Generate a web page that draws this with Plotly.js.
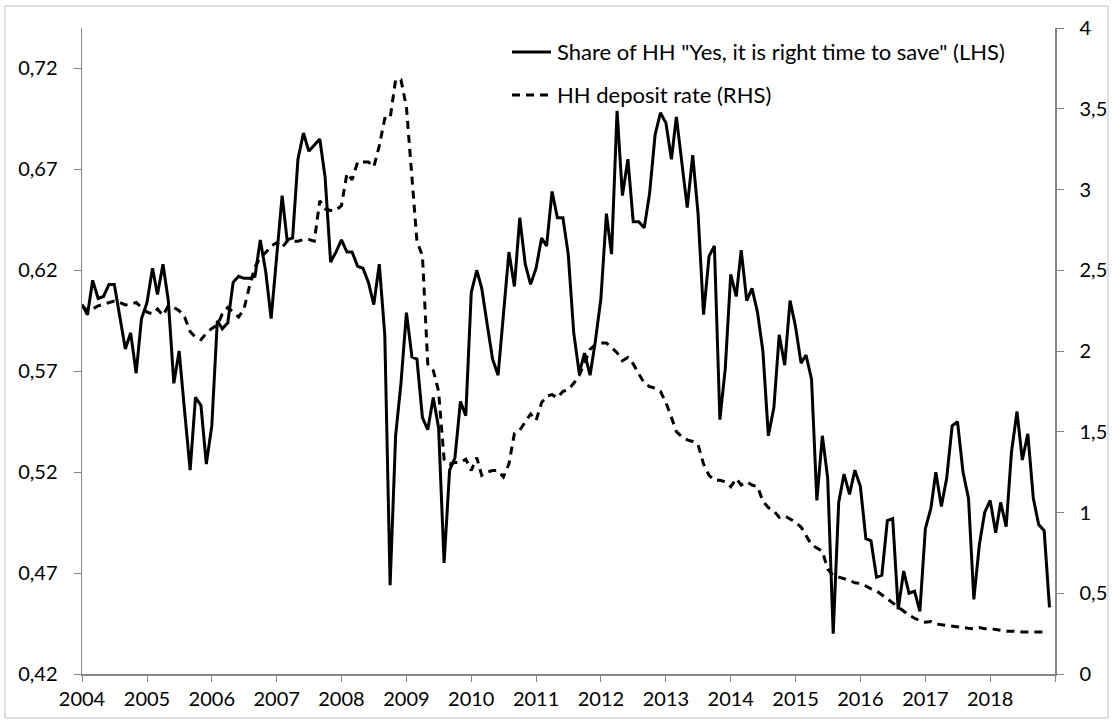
<!DOCTYPE html>
<html>
<head>
<meta charset="utf-8">
<script src="https://cdn.plot.ly/plotly-3.0.1.min.js"></script>
<style>
html,body{margin:0;padding:0;background:#fff;}
#chart{width:1113px;height:724px;}
</style>
</head>
<body>
<div id="chart"></div>
<script>
// Share of households answering "Yes, it is right time to save" (LHS), monthly Jan 2004 - Dec 2018
var shareSave = [
  0.603,0.598,0.615,0.606,0.607,0.613,0.613,0.597,0.581,0.589,0.569,0.596,
  0.604,0.621,0.608,0.623,0.605,0.564,0.580,0.550,0.521,0.557,0.553,0.524,
  0.543,0.595,0.591,0.594,0.614,0.617,0.616,0.616,0.617,0.635,0.619,0.596,
  0.627,0.657,0.635,0.636,0.675,0.688,0.679,0.682,0.685,0.666,0.624,0.629,
  0.635,0.629,0.629,0.622,0.621,0.614,0.603,0.623,0.588,0.464,0.538,0.564,
  0.599,0.577,0.576,0.547,0.541,0.557,0.542,0.475,0.521,0.527,0.555,0.548,
  0.609,0.620,0.611,0.593,0.576,0.568,0.600,0.629,0.612,0.646,0.623,0.613,
  0.621,0.636,0.632,0.659,0.646,0.646,0.628,0.589,0.569,0.579,0.568,0.585,
  0.606,0.648,0.628,0.699,0.657,0.675,0.644,0.644,0.641,0.658,0.687,0.698,
  0.693,0.675,0.696,0.673,0.651,0.677,0.648,0.598,0.627,0.632,0.546,0.571,
  0.618,0.607,0.630,0.605,0.611,0.599,0.580,0.538,0.552,0.588,0.573,0.605,
  0.592,0.574,0.578,0.566,0.506,0.538,0.517,0.440,0.505,0.519,0.509,0.521,
  0.513,0.487,0.486,0.468,0.469,0.496,0.497,0.452,0.471,0.460,0.461,0.451,
  0.492,0.502,0.520,0.503,0.517,0.543,0.545,0.520,0.507,0.457,0.484,0.500,
  0.506,0.490,0.505,0.493,0.530,0.550,0.526,0.539,0.507,0.494,0.491,0.453
];
// Household deposit rate (RHS), monthly Jan 2004 - Nov 2018
var depositRate = [
  2.28,2.25,2.26,2.28,2.29,2.30,2.31,2.30,2.285,2.29,2.30,2.27,
  2.24,2.23,2.26,2.22,2.28,2.27,2.25,2.21,2.12,2.085,2.07,2.11,
  2.14,2.16,2.23,2.27,2.24,2.21,2.26,2.40,2.52,2.58,2.61,2.65,
  2.67,2.64,2.68,2.68,2.68,2.69,2.69,2.68,2.93,2.88,2.87,2.87,
  2.90,3.10,3.06,3.17,3.17,3.17,3.14,3.27,3.44,3.44,3.68,3.68,
  3.51,3.10,2.68,2.59,1.92,1.88,1.75,1.33,1.30,1.31,1.31,1.33,
  1.26,1.34,1.23,1.25,1.26,1.26,1.22,1.30,1.49,1.51,1.56,1.61,
  1.57,1.68,1.72,1.73,1.71,1.75,1.76,1.80,1.85,1.93,2.01,2.04,
  2.05,2.05,2.02,1.99,1.94,1.96,1.92,1.86,1.80,1.78,1.77,1.75,
  1.68,1.59,1.50,1.47,1.45,1.44,1.42,1.30,1.23,1.20,1.20,1.19,
  1.16,1.21,1.17,1.19,1.17,1.16,1.07,1.03,1.01,0.97,0.98,0.96,
  0.94,0.91,0.86,0.80,0.78,0.76,0.65,0.61,0.60,0.59,0.58,0.565,
  0.56,0.545,0.527,0.515,0.49,0.465,0.44,0.415,0.39,0.365,0.345,0.33,
  0.32,0.325,0.31,0.305,0.30,0.296,0.29,0.285,0.283,0.28,0.287,0.28,
  0.283,0.275,0.27,0.265,0.264,0.265,0.26,0.26,0.26,0.26,0.26
];
var years = [2004,2005,2006,2007,2008,2009,2010,2011,2012,2013,2014,2015,2016,2017,2018,2019];
var yearLabels = ["2004","2005","2006","2007","2008","2009","2010","2011","2012","2013","2014","2015","2016","2017","2018",""];
var leftTicks = [0.42,0.47,0.52,0.57,0.62,0.67,0.72];
var leftLabels = ["0,42","0,47","0,52","0,57","0,62","0,67","0,72"];
var rightTicks = [0,0.5,1,1.5,2,2.5,3,3.5,4];
var rightLabels = ["0","0,5","1","1,5","2","2,5","3","3,5","4"];
var legendNames = ['Share of HH "Yes, it is right time to save" (LHS)', 'HH deposit rate (RHS)'];

function monthDates(n){
  var out=[];
  for(var i=0;i<n;i++){
    var y=2004+Math.floor(i/12), m=(i%12)+1;
    out.push(y+'-'+(m<10?'0':'')+m+'-01');
  }
  return out;
}
var xSolid = monthDates(shareSave.length);
var xDash = monthDates(depositRate.length);
var tickDates = years.map(function(y){return y+'-01-01';});

var FONT = 'Lato, "Open Sans", sans-serif';
var AX = '#868686';
var TICKSIZE = 20, LEGSIZE = 22;

var traces = [
  {x:xSolid, y:shareSave, type:'scatter', mode:'lines', name:legendNames[0],
   line:{color:'#000', width:3}, yaxis:'y', showlegend:false, hoverinfo:'skip'},
  {x:xDash, y:depositRate, type:'scatter', mode:'lines', name:legendNames[1],
   line:{color:'#000', width:3, dash:'8px,6px'}, yaxis:'y2', showlegend:false, hoverinfo:'skip'}
];

var pl=82, pr=1055, pt=28, pb=674;
function px(x){return (x-pl)/(pr-pl);}
function py(y){return (pb-y)/(pb-pt);}

var layout = {
  width:1113, height:724,
  margin:{l:pl, r:1113-pr, t:pt, b:724-pb, pad:0},
  paper_bgcolor:'#fff', plot_bgcolor:'#fff',
  font:{family:FONT, size:TICKSIZE, color:'#000'},
  showlegend:false,
  xaxis:{type:'date', range:['2004-01-01','2019-01-01'], tickvals:tickDates, ticktext:yearLabels,
    ticks:'outside', ticklen:6, tickwidth:1, tickcolor:AX, showline:true, linecolor:AX, linewidth:1.5,
    showgrid:false, zeroline:false, tickfont:{family:FONT, size:TICKSIZE, color:'#000'}},
  yaxis:{range:[0.42,0.74], tickvals:leftTicks, ticktext:leftLabels, ticks:'outside', ticklen:7,
    tickwidth:1, tickcolor:AX, showline:true, linecolor:AX, linewidth:1.5, showgrid:false, zeroline:false,
    tickfont:{family:FONT, size:TICKSIZE, color:'#000'}, ticklabelstandoff:12},
  yaxis2:{range:[0,4], overlaying:'y', side:'right', tickvals:rightTicks, ticktext:rightLabels,
    ticks:'outside', ticklen:7, tickwidth:1, tickcolor:AX, showline:true, linecolor:AX, linewidth:1.5,
    showgrid:false, zeroline:false, tickfont:{family:FONT, size:TICKSIZE, color:'#000'}, ticklabelstandoff:12},
  shapes:[
    {type:'rect', xref:'paper', yref:'paper', x0:px(5), x1:px(1108), y0:py(718), y1:py(6),
     line:{color:'#bfbfbf', width:1}, fillcolor:'rgba(0,0,0,0)', layer:'below'},
    {type:'line', xref:'paper', yref:'paper', x0:px(512), x1:px(551), y0:py(52), y1:py(52),
     line:{color:'#000', width:3}},
    {type:'line', xref:'paper', yref:'paper', x0:px(512), x1:px(551), y0:py(95), y1:py(95),
     line:{color:'#000', width:3, dash:'8px,6px'}}
  ],
  annotations:[
    {xref:'paper', yref:'paper', x:px(555), y:py(52), xanchor:'left', yanchor:'middle', showarrow:false,
     text:legendNames[0], font:{family:FONT, size:LEGSIZE, color:'#000'}},
    {xref:'paper', yref:'paper', x:px(555), y:py(95), xanchor:'left', yanchor:'middle', showarrow:false,
     text:legendNames[1], font:{family:FONT, size:LEGSIZE, color:'#000'}}
  ]
};

Plotly.newPlot('chart', traces, layout, {staticPlot:true, displayModeBar:false});
</script>
</body>
</html>
